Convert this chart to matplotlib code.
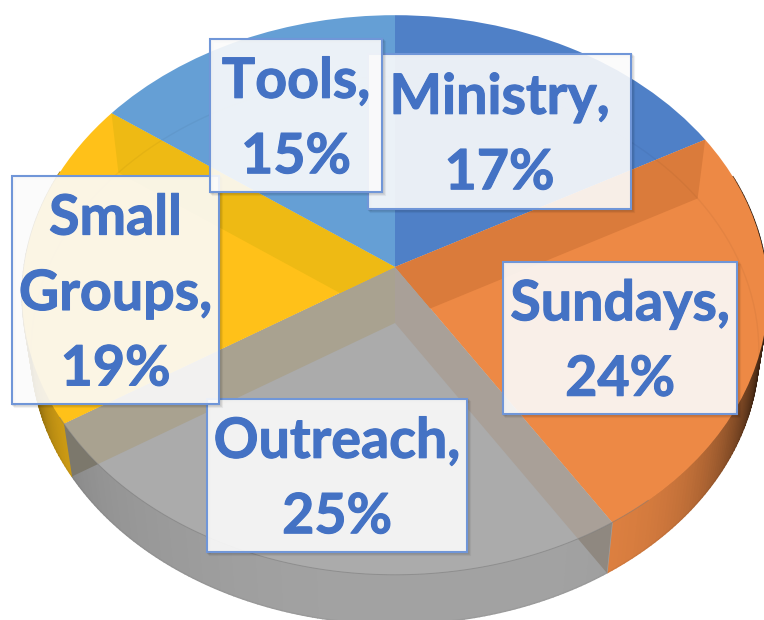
import matplotlib
matplotlib.use("Agg")
import matplotlib.pyplot as plt
import matplotlib.patheffects as pe
import numpy as np
from matplotlib.patches import Polygon, Rectangle
from matplotlib.transforms import Transform

categories = ["Ministry", "Sundays", "Outreach", "Small\nGroups", "Tools"]
shares = [17, 24, 25, 19, 15]
colors = ["#4F80C7", "#ED8945", "#ABABAB", "#FFC119", "#659FD5"]

# colour of the cut wall seen through the slice it sits in
wall_inner = ["#DA7B3B", "#A9A098", "#A9A290", "#EEBA14"]
wall_outer = ["#DA7B3B", "#8F8880", "#7C786C", "#EEBA14"]
wall_owner = [1, 2, 2, 3]

# left, top, right, bottom in pixels
boxes = [(368, 54, 631, 209), (503, 262, 737, 414), (207, 399, 467, 552),
         (12, 176, 219, 404), (210, 39, 382, 192)]

text_color = "#4472C4"
box_edge = "#7096D8"


class Perspective(Transform):
    input_dims = 2
    output_dims = 2

    def __init__(self, cx, cy, rx, ry, k=0.1):
        super().__init__()
        self.cx, self.cy, self.rx, self.ry, self.k = cx, cy, rx, ry, k

    def transform_non_affine(self, xy):
        xy = np.asarray(xy, dtype=float)
        d = 1 + self.k * xy[:, 1]
        return np.column_stack((self.cx + self.rx * xy[:, 0] / d,
                                self.cy - self.ry * xy[:, 1] / d))


def rim(a):
    a = np.radians(a)
    return np.array([[np.sin(a), np.cos(a)]])


def shade(color, x):
    # side of the pie goes dark towards the silhouette
    if x > 0:
        f = 0.95 - 0.85 * x ** 6
    else:
        f = 0.95 - 0.15 * abs(x) ** 2 - 0.45 * abs(x) ** 14
    return tuple(np.array(matplotlib.colors.to_rgb(color)) * f)


fig = plt.figure(figsize=(7.64, 6.2), dpi=100)
ax = fig.add_axes([0, 0, 1, 1])

top = Perspective(395, 267, 371, 277)
bottom = Perspective(395, 323, 362, 271)

wedges, _ = ax.pie(shares, colors=colors, startangle=90, counterclock=False,
                   radius=1, wedgeprops=dict(linewidth=0))
ax.set_aspect("auto")
ax.set_xlim(0, 764)
ax.set_ylim(620, 0)
ax.axis("off")

edges = np.concatenate(([0], np.cumsum(shares))) * 3.6

# outer side of the pie
for i, color in enumerate(colors):
    for a in np.arange(edges[i], edges[i + 1], 0.75):
        b = min(a + 0.75, edges[i + 1])
        if np.cos(np.radians(a)) > 0.35:
            continue
        pts = np.vstack((top.transform(rim(a)), top.transform(rim(b)),
                         bottom.transform(rim(b)), bottom.transform(rim(a))))
        c = shade(color, np.sin(np.radians(a)))
        ax.add_patch(Polygon(pts, closed=True, fc=c, ec=c, lw=1.0, zorder=1))


def wall(angle):
    return np.vstack((top.transform(np.array([[0.0, 0.0]])), top.transform(rim(angle)),
                      bottom.transform(rim(angle)), bottom.transform(np.array([[0.0, 0.0]]))))


# cut walls showing below the top face
for i in range(4):
    ax.add_patch(Polygon(wall(edges[i + 1]), closed=True, fc=wall_outer[i], lw=0, zorder=2))

for w in wedges:
    w.set_transform(top + ax.transData)
    w.set_zorder(3)

# cut walls seen through the top face
for i in range(4):
    p = Polygon(wall(edges[i + 1]), closed=True, fc=wall_inner[i], lw=0, zorder=4)
    ax.add_patch(p)
    p.set_clip_path(wedges[wall_owner[i]])

# faint rims
ang = np.linspace(0, 360, 361)
unit = np.column_stack((np.sin(np.radians(ang)), np.cos(np.radians(ang))))
b_rim = bottom.transform(unit)
ax.plot(b_rim[:, 0], b_rim[:, 1], color="black", alpha=0.04, lw=1, zorder=5)
front = unit[(ang > 140) & (ang < 240)]
t_rim = top.transform(front)
ax.plot(t_rim[:, 0], t_rim[:, 1], color="#777777", alpha=0.5, lw=0.7, zorder=5)

# data labels, drawn in data order so later ones sit on earlier ones
for i, (name, share) in enumerate(zip(categories, shares)):
    x0, y0, x1, y1 = boxes[i]
    z = 10 + i
    for off, a in ((4, 0.05), (3, 0.07), (2, 0.09)):
        ax.add_patch(Rectangle((x0 + off - 1, y0 + off - 1), x1 - x0, y1 - y0, fc="none",
                               ec="black", alpha=a, lw=1.5, zorder=z))
    ax.add_patch(Rectangle((x0, y0), x1 - x0, y1 - y0, fc=(0.985, 0.985, 0.985, 0.9),
                           ec=box_edge, lw=1.5, zorder=z))
    t = ax.text((x0 + x1) / 2, (y0 + y1) / 2 + 4, f"{name},\n{share}%", color=text_color,
                family="Lato", weight="bold", fontsize=40, ha="center", va="center",
                ma="center", linespacing=1.62, zorder=z)
    t.set_path_effects([pe.withStroke(linewidth=0.8, foreground=text_color)])

fig.savefig("out.png", dpi=100, facecolor="white")
